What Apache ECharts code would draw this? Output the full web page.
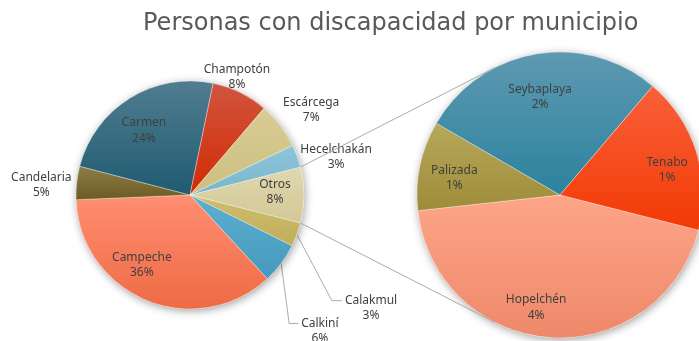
<!DOCTYPE html>
<html>
<head>
<meta charset="utf-8">
<script src="https://cdn.jsdelivr.net/npm/echarts@6/dist/echarts.min.js"></script>
<style>
  html, body { margin: 0; padding: 0; background: #ffffff; }
  #chart { width: 699px; height: 341px; }
</style>
</head>
<body>
<div id="chart"></div>
<script>
// Share of people with disabilities by municipality (percent of state total)
const titleText = 'Personas con discapacidad por municipio';
const mainNames = ['Calakmul', 'Calkiní', 'Campeche', 'Candelaria', 'Carmen', 'Champotón', 'Escárcega', 'Hecelchakán'];
const mainValues = [3.4, 5.8, 36.2, 4.7, 24.2, 8.0, 6.6, 3.2];
const otherName = 'Otros';
// municipalities grouped into "Otros", broken out in the second pie
const detailNames = ['Hopelchén', 'Palizada', 'Seybaplaya', 'Tenabo'];
const detailValues = [3.5, 0.8, 2.2, 1.4];

// ---- styling ----
const FONT = '"Noto Sans", "Open Sans", sans-serif';
const TITLE_FONT = '"DejaVu Sans", "Noto Sans", sans-serif';
const TEXT = '#404040';
const colors = {
  'Otros':       ['#E0D8AE', '#D2C796'],
  'Calakmul':    ['#CDBD70', '#C2AE58'],
  'Calkiní':     ['#5DB0CF', '#4599BC'],
  'Campeche':    ['#FF8E72', '#EF6A44'],
  'Candelaria':  ['#8C7D48', '#6C5C22'],
  'Carmen':      ['#517D8F', '#1F5B72'],
  'Champotón':   ['#D0553F', '#D32A02'],
  'Escárcega':   ['#D8CC94', '#CDBF80'],
  'Hecelchakán': ['#8FC6D9', '#76B6CD'],
  'Hopelchén':   ['#FEA588', '#EE886A'],
  'Palizada':    ['#B7A85C', '#9E8C38'],
  'Seybaplaya':  ['#5E99B1', '#2C829E'],
  'Tenabo':      ['#F9603A', '#F23A04']
};
// label placement: d = distance of the label block from the pie centre,
// s = angular nudge from the slice's mid angle; leader = elbow line offsets
const labelPlace = {
  'Otros':       { d: 85,  s: -2 },
  'Calakmul':    { leader: [35, 66, 10] },
  'Calkiní':     { leader: [8, 60, 9] },
  'Campeche':    { d: 85,  s: 12 },
  'Candelaria':  { d: 149, s: -2.3 },
  'Carmen':      { d: 79,  s: -3.8 },
  'Champotón':   { d: 127, s: -4.4 },
  'Escárcega':   { d: 148, s: 2.6 },
  'Hecelchakán': { d: 151, s: 5.4 },
  'Hopelchén':   { d: 115, s: 8 },
  'Palizada':    { d: 107, s: -2.8 },
  'Seybaplaya':  { d: 100, s: -1.8 },
  'Tenabo':      { d: 110, s: 4.5 }
};

const L = { cx: 190, cy: 195, r: 114 };
const R = { cx: 560, cy: 195, r: 143 };

const sum = a => a.reduce((s, v) => s + v, 0);
const otherValue = sum(detailValues);
const total = otherValue + sum(mainValues);
const otherDeg = otherValue / total * 360;

const leftNames = [otherName].concat(mainNames);
const leftValues = [otherValue].concat(mainValues);

// angles measured clockwise from 12 o'clock
const leftStart = 90 - otherDeg / 2;
const rightStart = 90 + otherDeg / 2;

function midAngles(values, start) {
  const t = sum(values);
  let acc = start;
  return values.map(v => {
    const span = v / t * 360;
    const m = acc + span / 2;
    acc += span;
    return m;
  });
}
const leftMids = midAngles(leftValues, leftStart);
const rightMids = midAngles(detailValues, rightStart);

function polar(c, dist, deg) {
  const rad = deg * Math.PI / 180;
  return [c.cx + dist * Math.sin(rad), c.cy - dist * Math.cos(rad)];
}

function grad(name) {
  const c = colors[name];
  return {
    type: 'linear', x: 0, y: 0, x2: 0, y2: 1,
    colorStops: [{ offset: 0, color: c[0] }, { offset: 1, color: c[1] }]
  };
}

function makeData(names, values) {
  return names.map((n, i) => {
    const item = { name: n, value: values[i], itemStyle: { color: grad(n) } };
    if (labelPlace[n] && labelPlace[n].leader) item.labelLine = { show: true };
    return item;
  });
}

function layoutFor(names, mids, c) {
  return function (p) {
    const name = names[p.dataIndex];
    const cfg = labelPlace[name];
    const mid = mids[p.dataIndex];
    if (cfg.leader) {
      const a = polar(c, c.r, mid);
      const b = [a[0] + cfg.leader[0], a[1] + cfg.leader[1]];
      const e = [b[0] + cfg.leader[2], b[1]];
      return {
        x: e[0] + 3 + p.labelRect.width / 2,
        y: e[1] + 7.5,
        align: 'center', verticalAlign: 'middle',
        labelLinePoints: [a, b, e]
      };
    }
    const q = polar(c, cfg.d, mid + cfg.s);
    return { x: q[0], y: q[1], align: 'center', verticalAlign: 'middle' };
  };
}

const labelCommon = {
  show: true,
  position: 'outside',
  formatter: p => p.name + '\n' + Math.round(p.value) + '%',
  color: TEXT,
  fontFamily: FONT,
  fontSize: 12,
  lineHeight: 15.5,
  align: 'center'
};

function shadowDisc(c) {
  return {
    type: 'pie', silent: true, animation: false,
    center: [c.cx, c.cy], radius: c.r,
    label: { show: false }, labelLine: { show: false },
    emphasis: { disabled: true },
    itemStyle: {
      color: '#ffffff',
      shadowBlur: 9, shadowColor: 'rgba(0,0,0,0.38)',
      shadowOffsetX: 1, shadowOffsetY: 2
    },
    data: [{ value: 1, name: '' }]
  };
}

// connector lines: from the edges of the "Otros" slice, tangent to the second pie
function tangentPoint(p, c, upper) {
  const vx = p[0] - c.cx, vy = p[1] - c.cy;
  const d = Math.hypot(vx, vy);
  const phi = Math.atan2(vy, vx);
  const alpha = Math.acos(c.r / d);
  const ang = upper ? phi + alpha : phi - alpha;
  return [c.cx + c.r * Math.cos(ang), c.cy + c.r * Math.sin(ang)];
}
const pTop = polar(L, L.r, leftStart);
const pBot = polar(L, L.r, leftStart + otherDeg);
const qTop = tangentPoint(pTop, R, true);
const qBot = tangentPoint(pBot, R, false);
const connectorStyle = { stroke: '#ABABAB', lineWidth: 1 };

const chart = echarts.init(document.getElementById('chart'), null, { renderer: 'canvas' });
chart.setOption({
  animation: false,
  backgroundColor: '#ffffff',
  title: {
    text: titleText,
    left: 138, top: 7,
    textStyle: { fontFamily: TITLE_FONT, fontSize: 24, fontWeight: 'normal', color: '#595959' }
  },
  graphic: [
    { type: 'line', z: 10, shape: { x1: pTop[0], y1: pTop[1], x2: qTop[0], y2: qTop[1] }, style: connectorStyle, silent: true },
    { type: 'line', z: 10, shape: { x1: pBot[0], y1: pBot[1], x2: qBot[0], y2: qBot[1] }, style: connectorStyle, silent: true }
  ],
  series: [
    shadowDisc(L),
    shadowDisc(R),
    {
      type: 'pie', name: 'municipios',
      center: [L.cx, L.cy], radius: L.r,
      startAngle: 90 - leftStart, clockwise: true,
      avoidLabelOverlap: false,
      emphasis: { disabled: true },
      itemStyle: { borderColor: 'rgba(255,255,255,0.55)', borderWidth: 0.6 },
      label: labelCommon,
      labelLine: { show: false, lineStyle: { color: '#ABABAB', width: 1 } },
      labelLayout: layoutFor(leftNames, leftMids, L),
      data: makeData(leftNames, leftValues)
    },
    {
      type: 'pie', name: 'otros',
      center: [R.cx, R.cy], radius: R.r,
      startAngle: 90 - rightStart, clockwise: true,
      avoidLabelOverlap: false,
      emphasis: { disabled: true },
      itemStyle: { borderColor: 'rgba(255,255,255,0.55)', borderWidth: 0.6 },
      label: labelCommon,
      labelLine: { show: false },
      labelLayout: layoutFor(detailNames, rightMids, R),
      data: makeData(detailNames, detailValues)
    }
  ]
});
</script>
</body>
</html>
